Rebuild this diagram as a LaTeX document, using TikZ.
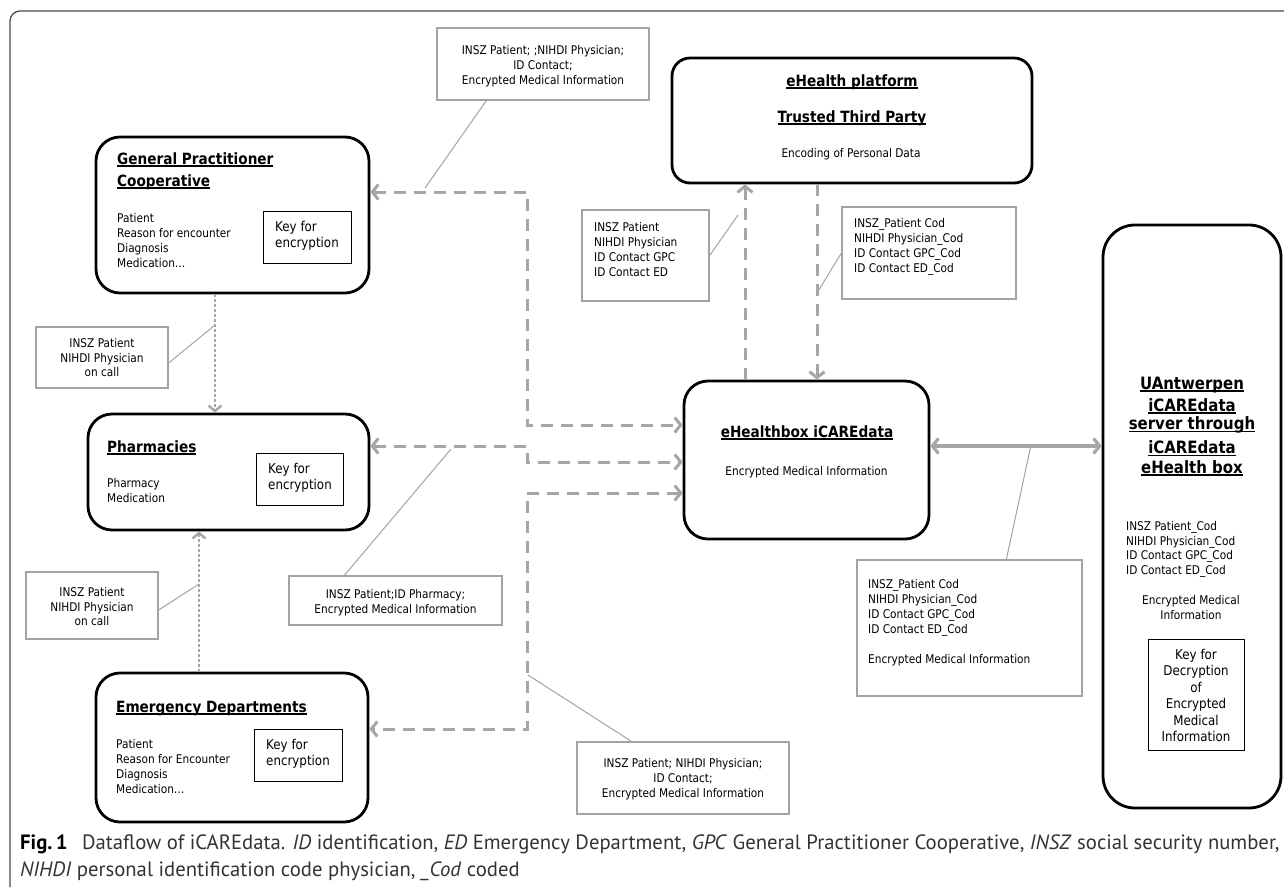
\documentclass[tikz,border=0pt]{standalone}
\usepackage{fontspec}
\setmainfont{DejaVu Sans}[FakeStretch=0.88]
\newfontfamily\capfont{PT Sans}
\usetikzlibrary{arrows.meta}
\definecolor{ln}{HTML}{A6A6A6}
\definecolor{lb}{HTML}{A3A3A3}
\definecolor{frm}{HTML}{4A4A4A}
\definecolor{capc}{HTML}{333333}
\newcommand{\myul}[1]{\setbox0\hbox{#1}\rlap{\rule[-2.6pt]{\wd0}{1.6pt}}\box0}
\newcommand{\tl}[1]{\begin{tabular}[t]{@{}l@{}}#1\end{tabular}}
\newcommand{\tc}[1]{\begin{tabular}[t]{@{}c@{}}#1\end{tabular}}
\tikzset{
  mbox/.style={draw=black, line width=2.8pt, rounded corners=24pt, inner sep=0pt},
  kbox/.style={draw=black, line width=1pt, inner sep=0pt},
  lbox/.style={draw=lb, line width=1.3pt, inner sep=0pt},
  txt/.style={inner sep=0pt, font=\fontsize{12}{15}\selectfont},
  txtb/.style={inner sep=0pt, font=\fontsize{12}{14.5}\selectfont},
  ktxt/.style={inner sep=0pt, font=\fontsize{13.5}{16.5}\selectfont},
  ttl/.style={inner sep=0pt, font=\fontsize{15.5}{22}\selectfont\bfseries},
  ttlu/.style={inner sep=0pt, font=\fontsize{17}{21}\selectfont\bfseries},
  dsh/.style={draw=ln, line width=3pt, dash pattern=on 12pt off 8pt},
  dotln/.style={draw=ln, line width=2.8pt, dash pattern=on 2.4pt off 2.6pt,
    >={Straight Barb[length=5.5pt,width=13pt,line width=2.4pt]}},
  sol/.style={draw=ln, line width=3.2pt},
  call/.style={draw=lb, line width=1pt},
  >={Straight Barb[length=6pt,width=15pt]},
}
\begin{document}
\begin{tikzpicture}[x=1pt,y=-1pt]
\useasboundingbox (0,0) rectangle (1284,887);
% outer frame
\draw[draw=frm, line width=1.3pt, rounded corners=10pt] (10,887) -- (10,11) -- (1284,11);

% main boxes
\node[mbox, minimum width=273pt, minimum height=156pt] (gpc) at (232.5,215) {};
\node[mbox, minimum width=281pt, minimum height=116pt] (pha) at (228.5,472) {};
\node[mbox, minimum width=272pt, minimum height=149pt] (ed) at (232,747.5) {};
\node[mbox, rounded corners=18pt, minimum width=360pt, minimum height=125pt] (plat) at (852,120.5) {};
\node[mbox, minimum width=245pt, minimum height=158pt] (ebox) at (806.5,460) {};
\node[mbox, rounded corners=32pt, minimum width=178pt, minimum height=583pt] (ua) at (1192,516.5) {};

% key boxes
\node[kbox, minimum width=88pt, minimum height=52pt] (k1) at (307,237) {};
\node[kbox, minimum width=87pt, minimum height=52pt] (k2) at (299.5,479) {};
\node[kbox, minimum width=88pt, minimum height=52pt] (k3) at (298,755) {};
\node[kbox, minimum width=96pt, minimum height=111pt] (k4) at (1196,694.5) {};

% label boxes
\node[lbox, minimum width=212pt, minimum height=72pt] (l1) at (543,64) {};
\node[lbox, minimum width=132pt, minimum height=61pt] (l2) at (102,357.5) {};
\node[lbox, minimum width=132pt, minimum height=67pt] (l3) at (92,605.5) {};
\node[lbox, minimum width=213pt, minimum height=49pt] (l4) at (395.5,600.5) {};
\node[lbox, minimum width=212pt, minimum height=72pt] (l5) at (683,778) {};
\node[lbox, minimum width=127pt, minimum height=91pt] (l6) at (645.5,255.5) {};
\node[lbox, minimum width=174pt, minimum height=92pt] (l7) at (929,253) {};
\node[lbox, minimum width=225pt, minimum height=136pt] (l8) at (969.5,628) {};

% GPC texts
\node[ttl, anchor=base west] (gpcT1) at (117,164) {\myul{General Practitioner}};
\node[ttl, anchor=base west] (gpcT2) at (117,186) {\myul{Cooperative}};
\node[txt, anchor=base west] (gpcB) at (117,222.5) {\tl{Patient\\Reason for encounter\\Diagnosis\\Medication…}};
\node[ktxt, anchor=base west] (k1t) at (275,231) {\tl{Key for\\encryption}};

% Pharmacy texts
\node[ttl, anchor=base west] (phaT) at (107,452) {\myul{Pharmacies}};
\node[txt, anchor=base west] (phaB) at (107,487.5) {\tl{Pharmacy\\Medication}};
\node[ktxt, anchor=base west] (k2t) at (268,473) {\tl{Key for\\encryption}};

% ED texts
\node[ttl, anchor=base west] (edT) at (116,712) {\myul{Emergency Departments}};
\node[txt, anchor=base west] (edB) at (116,748.5) {\tl{Patient\\Reason for Encounter\\Diagnosis\\Medication…}};
\node[ktxt, anchor=base west] (k3t) at (266,749) {\tl{Key for\\encryption}};

% platform texts
\node[ttl, anchor=base] (plT1) at (852,86) {\myul{eHealth platform}};
\node[ttl, anchor=base] (plT2) at (852,122) {\myul{Trusted Third Party}};
\node[txt, anchor=base] (plB) at (851,157.5) {Encoding of Personal Data};

% eHealthbox texts
\node[ttl, anchor=base] (ebT) at (807,437) {\myul{eHealthbox iCAREdata}};
\node[txt, anchor=base] (ebB) at (806.5,475.5) {Encrypted Medical Information};

% UAntwerpen texts
\node[ttlu, anchor=base] (uaT1) at (1192,389) {\myul{UAntwerpen}};
\node[ttlu, anchor=base] (uaT2) at (1192,411) {\myul{iCAREdata}};
\node[ttlu, anchor=base] (uaT3) at (1192,429.5) {\myul{server through}};
\node[ttlu, anchor=base] (uaT4) at (1192,453.5) {\myul{iCAREdata}};
\node[ttlu, anchor=base] (uaT5) at (1192,473) {\myul{eHealth box}};
\node[txtb, anchor=base west] (uaB) at (1126,530.5) {\tl{INSZ Patient\_Cod\\NIHDI Physician\_Cod\\ID Contact GPC\_Cod\\ID Contact ED\_Cod}};
\node[txtb, anchor=base] (uaE) at (1191,604.5) {\tc{Encrypted Medical\\Information}};
\node[ktxt, anchor=base] (k4t) at (1196,659) {\tc{Key for\\Decryption\\of\\Encrypted\\Medical\\Information}};

% label texts
\node[txt, anchor=base] (l1t) at (543,54.5) {\tc{INSZ Patient; ;NIHDI Physician;\\ID Contact;\\Encrypted Medical Information}};
\node[txtb, anchor=base] (l2t) at (102,347.5) {\tc{INSZ Patient\\NIHDI Physician\\on call}};
\node[txtb, anchor=base] (l3t) at (92,596.5) {\tc{INSZ Patient\\NIHDI Physician\\on call}};
\node[txtb, anchor=base] (l4t) at (395.5,598.5) {\tc{INSZ Patient;ID Pharmacy;\\Encrypted Medical Information}};
\node[txt, anchor=base] (l5t) at (683,767.5) {\tc{INSZ Patient; NIHDI Physician;\\ID Contact;\\Encrypted Medical Information}};
\node[txt, anchor=base west] (l6t) at (594,231.5) {\tl{INSZ Patient\\NIHDI Physician\\ID Contact GPC\\ID Contact ED}};
\node[txt, anchor=base west] (l7t) at (854,227.5) {\tl{INSZ\_Patient Cod\\NIHDI Physician\_Cod\\ID Contact GPC\_Cod\\ID Contact ED\_Cod}};
\node[txt, anchor=base west] (l8t) at (868,588.5) {\tl{INSZ\_Patient Cod\\NIHDI Physician\_Cod\\ID Contact GPC\_Cod\\ID Contact ED\_Cod\\ \\Encrypted Medical Information}};

% dashed connectors
\coordinate (j1) at (527,192);
\coordinate (j2) at (527,425);
\draw[dsh, <->] (gpc.east |- j1) -- (j1) -- (j2) -- (ebox.west |- j2);
\coordinate (j3) at (527,446);
\coordinate (j4) at (527,462);
\draw[dsh, <->] (pha.east |- j3) -- (j3) -- (j4) -- (ebox.west |- j4);
\coordinate (j5) at (527,493);
\coordinate (j6) at (527,729);
\draw[dsh, <->] (ebox.west |- j5) -- (j5) -- (j6) -- (ed.east |- j6);
\coordinate (v1) at (745,300);
\coordinate (v2) at (817,300);
\draw[dsh, ->] (ebox.north -| v1) -- (plat.south -| v1);
\draw[dsh, ->] (plat.south -| v2) -- (ebox.north -| v2);

% dotted connectors
\coordinate (d1) at (215,300);
\draw[dotln, ->] (gpc.south -| d1) -- (pha.north -| d1);
\coordinate (d2) at (199,600);
\draw[dotln, ->] (ed.north -| d2) -- (pha.south -| d2);

% solid double arrow
\coordinate (h1) at (1000,446);
\draw[sol, <->] (ebox.east |- h1) -- (ua.west |- h1);

% callout lines
\coordinate (p1) at (425,188);
\draw[call] ([xshift=50pt]l1.south west) -- (p1);
\coordinate (p2) at (215,325);
\draw[call] ([yshift=-5.5pt]l2.east) -- (p2);
\coordinate (p3) at (199,584);
\draw[call] ([yshift=-4.5pt]l3.east) -- (p3);
\coordinate (p4) at (451,449);
\draw[call] ([xshift=56pt]l4.north west) -- (p4);
\coordinate (p5) at (528,675);
\draw[call] ([xshift=55pt]l5.north west) -- (p5);
\coordinate (p6) at (738,215);
\draw[call] (l6.east) -- (p6);
\coordinate (p7) at (817,293);
\draw[call] (l7.west) -- (p7);
\coordinate (p8) at (1031,445);
\draw[call] ([xshift=150pt]l8.north west) -- (p8);

% caption
\node[anchor=base west, inner sep=0pt, text=capc, font=\capfont\fontsize{20.7}{27}\selectfont] (cap) at (20,849)
  {\tl{{\color{black}\textbf{Fig.\,1}}\hspace{0.7em}Dataflow of iCAREdata. \textit{ID} identification, \textit{ED} Emergency Department, \textit{GPC} General Practitioner Cooperative, \textit{INSZ} social security number,\\\textit{NIHDI} personal identification code physician, \textit{\_Cod} coded}};
\end{tikzpicture}
\end{document}
